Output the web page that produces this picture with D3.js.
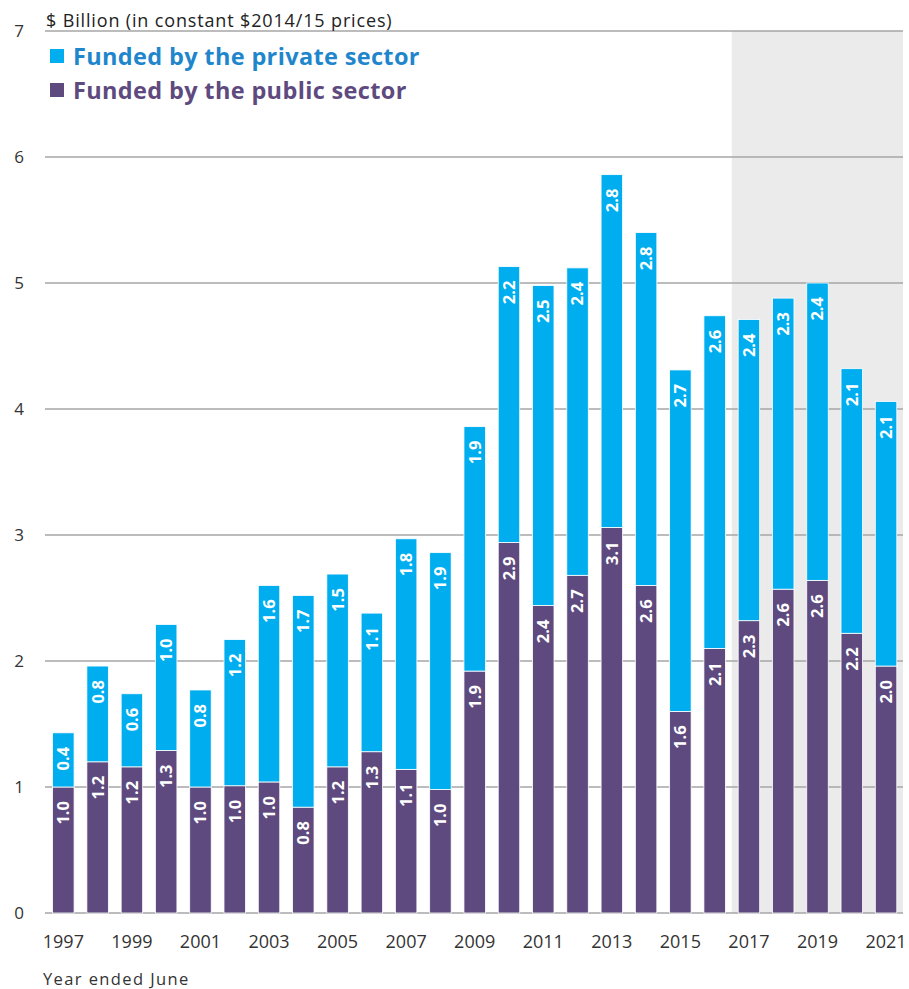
<!DOCTYPE html>
<html>
<head>
<meta charset="utf-8">
<script src="https://cdn.jsdelivr.net/npm/d3@7"></script>
<style>
  html, body { margin: 0; padding: 0; background: #fff; }
  svg { display: block; font-family: "Open Sans", "Noto Sans", sans-serif; }
</style>
</head>
<body>
<svg id="chart" width="909" height="989"></svg>
<script>
const years = ["1997","1998","1999","2000","2001","2002","2003","2004","2005","2006","2007","2008","2009","2010","2011","2012","2013","2014","2015","2016","2017","2018","2019","2020","2021"];
const publicSector  = [1.00,1.20,1.16,1.29,1.00,1.01,1.04,0.84,1.16,1.28,1.14,0.98,1.92,2.94,2.44,2.68,3.06,2.60,1.60,2.10,2.32,2.57,2.64,2.22,1.96];
const privateSector = [0.43,0.76,0.58,1.00,0.77,1.16,1.56,1.68,1.53,1.10,1.83,1.88,1.94,2.19,2.54,2.44,2.80,2.80,2.71,2.64,2.39,2.31,2.36,2.10,2.10];
const yTicks = [0,1,2,3,4,5,6,7];
const xTickLabels = ["1997","1999","2001","2003","2005","2007","2009","2011","2013","2015","2017","2019","2021"];
const shadeFrom = "2017";
const seriesNames = ["Funded by the private sector", "Funded by the public sector"];
const titleText = "$ Billion (in constant $2014/15 prices)";
const xTitle = "Year ended June";

const colPrivate = "#00AEEF";
const colPublic = "#5E4A7E";

const svg = d3.select("#chart");
const x = d3.scaleBand().domain(years).range([46.2, 903.2]).paddingInner(0.373).paddingOuter(0.1865);
const y = d3.scaleLinear().domain([0, 7]).range([913, 31]);

// shaded forecast region
const step = x.step();
const shadeX0 = x(shadeFrom) - (step - x.bandwidth()) / 2;
svg.append("rect")
  .attr("x", shadeX0).attr("y", y(7))
  .attr("width", 903 - shadeX0).attr("height", y(0) - y(7))
  .attr("fill", "#EBEBEB");

// gridlines
svg.append("g").selectAll("line").data(yTicks).join("line")
  .attr("x1", 45).attr("x2", 903)
  .attr("y1", d => y(d)).attr("y2", d => y(d))
  .attr("stroke", "#A6A6A6").attr("stroke-width", 1.3);

// y tick labels
svg.append("g").selectAll("text").data(yTicks).join("text")
  .attr("x", 19).attr("y", d => y(d)).attr("dy", "0.35em")
  .attr("text-anchor", "middle")
  .attr("font-size", 17).attr("fill", "#333")
  .text(d => d);

// bars
const data = years.map((yr, i) => ({ yr, pub: publicSector[i], priv: privateSector[i] }));
const g = svg.append("g");
g.selectAll("rect.pub").data(data).join("rect").attr("class", "pub")
  .attr("x", d => x(d.yr)).attr("width", x.bandwidth())
  .attr("y", d => y(d.pub)).attr("height", d => y(0) - y(d.pub))
  .attr("fill", colPublic).attr("stroke", "#fff").attr("stroke-width", 0.8);
g.selectAll("rect.priv").data(data).join("rect").attr("class", "priv")
  .attr("x", d => x(d.yr)).attr("width", x.bandwidth())
  .attr("y", d => y(d.pub + d.priv)).attr("height", d => y(d.pub) - y(d.pub + d.priv))
  .attr("fill", colPrivate).attr("stroke", "#fff").attr("stroke-width", 0.8);

// value labels (rotated)
const fmt = d3.format(".1f");
function addLabels(cls, topFn, valFn) {
  g.selectAll("text." + cls).data(data).join("text").attr("class", cls)
    .attr("transform", d => `translate(${x(d.yr) + x.bandwidth() / 2},${y(topFn(d)) + 14}) rotate(-90)`)
    .attr("text-anchor", "end").attr("dy", "0.36em")
    .attr("font-size", 16.5).attr("font-weight", "bold").attr("fill", "#fff")
    .text(d => fmt(valFn(d)));
}
addLabels("lpub", d => d.pub, d => d.pub);
addLabels("lpriv", d => d.pub + d.priv, d => d.priv);

// x tick labels
svg.append("g").selectAll("text").data(xTickLabels).join("text")
  .attr("x", d => x(d) + x.bandwidth() / 2).attr("y", 942).attr("dy", "0.35em")
  .attr("text-anchor", "middle").attr("font-size", 18).attr("fill", "#333")
  .text(d => d);

// axis title
svg.append("text").attr("x", 43).attr("y", 985)
  .attr("font-size", 16.5).attr("letter-spacing", 1.4).attr("fill", "#333").text(xTitle);

// chart title
svg.append("text").attr("x", 46).attr("y", 27)
  .attr("font-size", 18).attr("fill", "#222").attr("letter-spacing", 0.85).text(titleText);

// legend
const legend = [
  { name: seriesNames[0], fill: colPrivate, text: "#1F86CC", y: 56 },
  { name: seriesNames[1], fill: colPublic, text: "#5E4A7E", y: 90 }
];
const lg = svg.append("g").selectAll("g").data(legend).join("g");
lg.append("rect").attr("x", 50).attr("y", d => d.y - 7).attr("width", 14).attr("height", 14).attr("fill", d => d.fill);
lg.append("text").attr("x", 73).attr("y", d => d.y + 9)
  .attr("font-size", 23.5).attr("font-weight", "bold").attr("letter-spacing", 0.35).attr("fill", d => d.text)
  .text(d => d.name);
</script>
</body>
</html>
